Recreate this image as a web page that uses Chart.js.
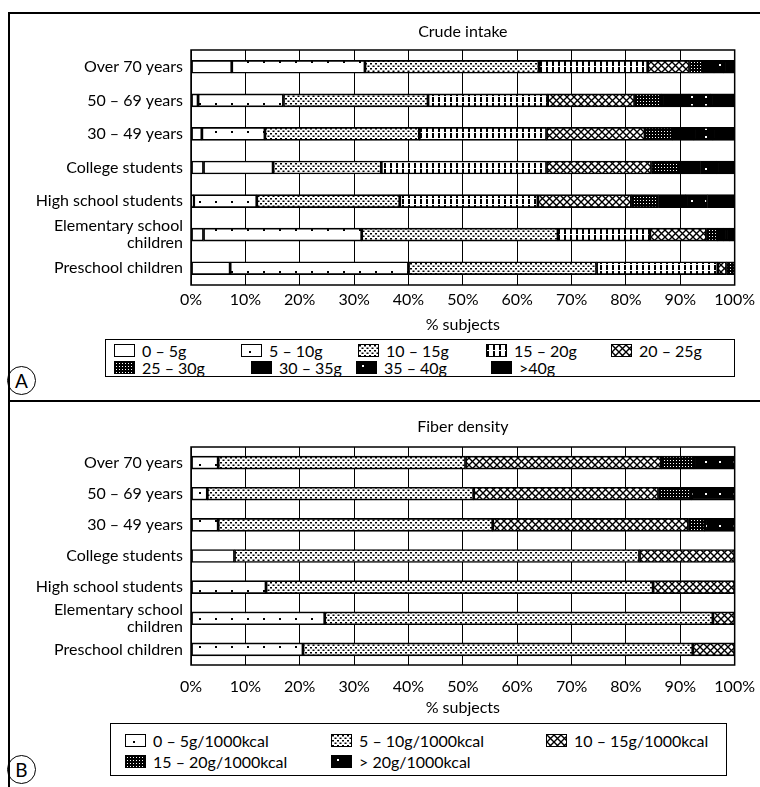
<!DOCTYPE html>
<html>
<head>
<meta charset="utf-8">
<script src="https://cdn.jsdelivr.net/npm/chart.js@4.4.1/dist/chart.umd.min.js"></script>
<style>
  body { margin: 0; background: #fff; width: 760px; height: 787px; position: relative; overflow: hidden; font-family: Lato, sans-serif; color: #000; }
  .line { position: absolute; background: #000; }
  canvas.chart { position: absolute; left: 0; }
  .legend { position: absolute; border: 1.5px solid #000; box-sizing: border-box; }
  .item { position: absolute; display: flex; align-items: center; font-size: 16px; white-space: nowrap; height: 18px; }
  .item canvas { margin-right: 7px; border: 1.5px solid #000; }
  .tag { position: absolute; width: 27px; height: 27px; border: 1.5px solid #000; border-radius: 50%; font-size: 19px; text-align: center; line-height: 27px; }
</style>
</head>
<body>
<div class="line" style="left:8px;top:12px;width:752px;height:1.5px"></div>
<div class="line" style="left:8px;top:12px;width:1.5px;height:775px"></div>
<div class="line" style="left:8px;top:400px;width:752px;height:1.5px"></div>

<canvas id="chartA" class="chart" width="760" height="324" style="top:13px"></canvas>
<div id="legendA" class="legend" style="left:105px;top:339px;width:630px;height:38px"></div>
<div class="tag" style="left:7px;top:366px">A</div>

<canvas id="chartB" class="chart" width="760" height="320" style="top:402px"></canvas>
<div id="legendB" class="legend" style="left:110px;top:723px;width:617px;height:53px"></div>
<div class="tag" style="left:7px;top:755px">B</div>

<script>
// categories, top to bottom
const categories = ['Over 70 years', '50 – 69 years', '30 – 49 years', 'College students',
  'High school students', ['Elementary school', 'children'], 'Preschool children'];
const tickLabels = ['0%', '10%', '20%', '30%', '40%', '50%', '60%', '70%', '80%', '90%', '100%'];

// A: crude fiber intake, % of subjects
const crudeLabels = ['0 – 5g', '5 – 10g', '10 – 15g', '15 – 20g', '20 – 25g', '25 – 30g', '30 – 35g', '35 – 40g', '>40g'];
const crude0_5   = [7.5, 1.3, 2.0, 2.3, 0.5, 2.3, 7.2];
const crude5_10  = [24.5, 15.7, 11.6, 12.8, 11.6, 29.1, 32.8];
const crude10_15 = [32.0, 26.6, 28.4, 19.9, 26.3, 36.1, 34.6];
const crude15_20 = [20.0, 22.0, 23.4, 30.4, 25.4, 16.9, 22.3];
const crude20_25 = [7.7, 16.0, 18.1, 19.3, 17.2, 10.4, 1.6];
const crude25_30 = [2.5, 5.0, 5.0, 5.0, 5.0, 2.0, 1.5];
const crude30_35 = [2.0, 5.0, 4.0, 4.0, 5.0, 1.2, 0];
const crude35_40 = [1.8, 4.0, 3.5, 3.0, 4.0, 1.0, 0];
const crudeOver40 = [2.0, 4.4, 4.0, 3.3, 5.0, 1.0, 0];

// B: fiber density, % of subjects
const fiberLabels = ['0 – 5g/1000kcal', '5 – 10g/1000kcal', '10 – 15g/1000kcal', '15 – 20g/1000kcal', '> 20g/1000kcal'];
const fiber0_5   = [5.0, 3.0, 5.0, 8.0, 13.8, 24.6, 20.6];
const fiber5_10  = [45.5, 49.0, 50.5, 74.5, 71.2, 71.4, 71.7];
const fiber10_15 = [36.0, 34.0, 36.0, 17.5, 15.0, 4.0, 7.7];
const fiber15_20 = [6.0, 6.0, 3.0, 0, 0, 0, 0];
const fiberOver20 = [7.5, 8.0, 5.5, 0, 0, 0, 0];

// pattern tiles (black & white print look)
function tile(w, h, bg, draw) {
  const c = document.createElement('canvas');
  c.width = w; c.height = h;
  const g = c.getContext('2d');
  g.fillStyle = bg; g.fillRect(0, 0, w, h);
  draw(g);
  return c;
}
const tiles = {
  white: tile(4, 4, '#fff', g => {}),
  sparse: tile(16, 14, '#fff', g => { g.fillStyle = '#000'; g.fillRect(7, 6, 2, 2); }),
  dense: tile(5, 5, '#fff', g => { g.fillStyle = '#000'; g.fillRect(0, 0, 2, 1.5); g.fillRect(2.5, 2.5, 2, 1.5); }),
  vbars: tile(6, 6, '#fff', g => { g.fillStyle = '#000'; g.fillRect(0, 0, 2, 5); }),
  cross: tile(7, 7, '#fff', g => {
    g.strokeStyle = '#000'; g.lineWidth = 1.4;
    g.beginPath(); g.moveTo(0, 0); g.lineTo(7, 7); g.moveTo(7, 0); g.lineTo(0, 7); g.stroke();
  }),
  dark: tile(3, 3, '#000', g => { g.fillStyle = '#fff'; g.fillRect(1, 1, 1, 1); }),
  black: tile(4, 4, '#000', g => {}),
  blackDots: tile(14, 8, '#000', g => { g.fillStyle = '#fff'; g.fillRect(5, 3, 2, 2); })
};
const crudeFills = ['white', 'sparse', 'dense', 'vbars', 'cross', 'dark', 'black', 'blackDots', 'black'];
const fiberFills = ['sparse', 'dense', 'cross', 'dark', 'blackDots'];

const frame = {
  id: 'frame',
  afterDraw(chart, args, opts) {
    const { ctx, chartArea: a } = chart;
    ctx.save();
    ctx.strokeStyle = '#000';
    ctx.lineWidth = 1.5;
    ctx.strokeRect(a.left, a.top, a.right - a.left, a.bottom - a.top);
    ctx.fillStyle = '#000';
    ctx.font = '16px Lato';
    ctx.textAlign = 'center';
    ctx.textBaseline = 'middle';
    ctx.fillText(opts.text, (a.left + a.right) / 2, opts.y);
    ctx.restore();
  }
};

function buildChart(id, title, labels, series, fills, lay) {
  const canvas = document.getElementById(id);
  const ctx = canvas.getContext('2d');
  const datasets = series.map((data, i) => ({
    label: labels[i],
    data: data,
    backgroundColor: ctx.createPattern(tiles[fills[i]], 'repeat')
  }));
  return new Chart(canvas, {
    type: 'bar',
    data: { labels: categories, datasets },
    options: {
      indexAxis: 'y',
      responsive: false,
      animation: false,
      layout: { padding: { top: lay.top, right: 25, left: 0, bottom: 0 } },
      datasets: { bar: { barThickness: 13, borderColor: '#000', borderWidth: 1.7, borderSkipped: false } },
      plugins: {
        legend: { display: false },
        tooltip: { enabled: false },
        frame: { text: title, y: lay.titleY }
      },
      scales: {
        x: {
          stacked: true, min: 0, max: 100,
          afterFit: s => { s.height = lay.xHeight; },
          // invisible tick marks push the labels down without widening the right margin
          grid: { color: '#000', lineWidth: 1, drawTicks: lay.tickLen > 0, tickLength: lay.tickLen, tickColor: 'rgba(0,0,0,0)' },
          border: { display: false },
          ticks: { stepSize: 10, padding: 5, color: '#000', font: { family: 'Lato', size: 16 },
                   maxRotation: 0, minRotation: 0, autoSkip: false,
                   callback: (v, i) => tickLabels[i] },
          title: { display: true, text: '% subjects', color: '#000', font: { family: 'Lato', size: 16 },
                   padding: { top: 0, bottom: lay.titlePad } }
        },
        y: {
          stacked: true,
          afterFit: s => { s.width = 191; },
          grid: { display: false, drawTicks: false },
          border: { display: false },
          ticks: { color: '#000', padding: 8, autoSkip: false, font: { family: 'Lato', size: 16, lineHeight: 1.05 } }
        }
      }
    },
    plugins: [frame]
  });
}

function buildLegend(id, labels, fills, pos) {
  const box = document.getElementById(id);
  labels.forEach((lab, i) => {
    const item = document.createElement('div');
    item.className = 'item';
    item.style.left = pos[i][0] + 'px';
    item.style.top = pos[i][1] + 'px';
    const sw = document.createElement('canvas');
    sw.width = 19; sw.height = 11;
    const g = sw.getContext('2d');
    g.fillStyle = g.createPattern(tiles[fills[i]], 'repeat');
    g.fillRect(0, 0, 19, 11);
    item.appendChild(sw);
    item.appendChild(document.createTextNode(lab));
    box.appendChild(item);
  });
}

buildChart('chartA', 'Crude intake', crudeLabels,
  [crude0_5, crude5_10, crude10_15, crude15_20, crude20_25, crude25_30, crude30_35, crude35_40, crudeOver40],
  crudeFills, { top: 37, titleY: 19, xHeight: 52, tickLen: 0, titlePad: 3 });

buildChart('chartB', 'Fiber density', fiberLabels,
  [fiber0_5, fiber5_10, fiber10_15, fiber15_20, fiberOver20],
  fiberFills, { top: 45, titleY: 25, xHeight: 57, tickLen: 7, titlePad: 5 });

buildLegend('legendA', crudeLabels, crudeFills,
  [[8, 1], [135, 1], [252, 1], [380, 1], [505, 1], [8, 18], [145, 18], [250, 18], [385, 18]]);
buildLegend('legendB', fiberLabels, fiberFills,
  [[14, 7], [220, 7], [435, 7], [14, 28], [220, 28]]);
</script>
</body>
</html>
